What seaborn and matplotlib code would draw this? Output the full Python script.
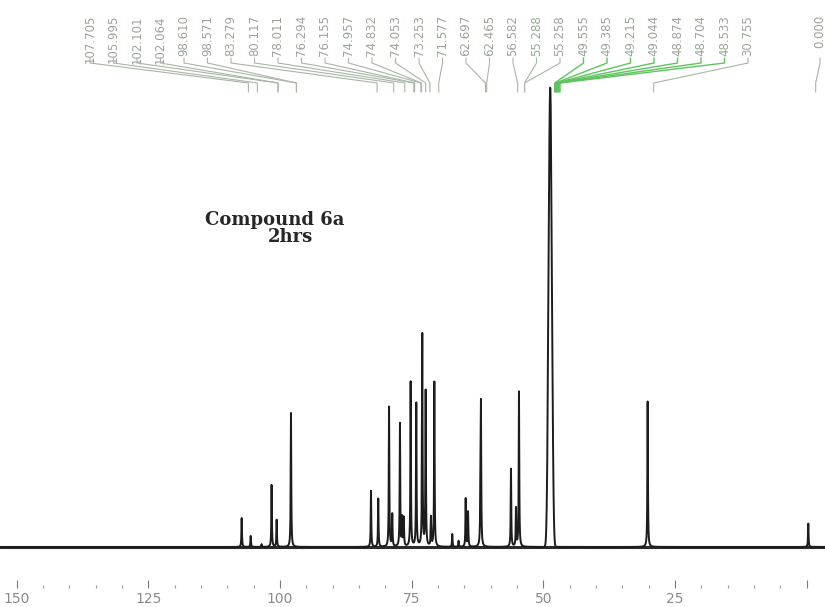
import numpy as np
import matplotlib
matplotlib.use('Agg')
import matplotlib.pyplot as plt
from matplotlib.ticker import MultipleLocator
import seaborn as sns

sns.set_style('white')
plt.rcParams['font.family'] = ['DejaVu Sans']

# peaks (ppm, relative height)
shifts = [107.28, 105.57, 103.5, 101.6, 100.64, 97.92, 82.73, 81.35, 79.3, 78.69,
          77.23, 76.8, 76.5, 75.2, 74.13, 72.99, 72.35, 71.34, 70.7, 67.3,
          66.1, 64.75, 64.3, 61.95, 61.85, 56.15, 55.2, 54.63, 30.2, -0.3]
heights = [6.3, 2.4, 0.6, 13.5, 5.9, 29.2, 12.2, 10.5, 30.5, 7.0,
           26.8, 6.1, 6.1, 35.9, 31.2, 46.2, 33.8, 6.3, 35.9, 2.8,
           1.3, 10.5, 7.6, 12.0, 29.0, 17.0, 8.3, 33.8, 31.7, 5.1]

# solvent septet (CD3OD)
solvent_shifts = [49.21, 49.04, 48.87, 48.70, 48.53, 48.36, 48.19]
solvent_heights = [6.4, 19.1, 38.2, 44.5, 38.2, 19.1, 6.4]

# peak-pick labels printed across the top
peak_labels = ['107.705', '105.995', '102.101', '102.064', '98.610', '98.571',
               '83.279', '80.117', '78.011', '76.294', '76.155', '74.957',
               '74.832', '74.053', '73.253', '71.577', '62.697', '62.465',
               '56.582', '55.288', '55.258', '49.555', '49.385', '49.215',
               '49.044', '48.874', '48.704', '48.533', '30.755', '0.000']

tick_values = [150, 125, 100, 75, 50, 25, 0]
tick_labels = ['150', '125', '100', '75', '50', '25', '']

# axis geometry (ppm at left / right edge of the figure)
X_LEFT, X_RIGHT = 153.17, -3.47
W, H = 825, 607
AX_BOTTOM = 588
def px2ppm(px):
    return X_LEFT - px * (X_LEFT - X_RIGHT) / W

UNIT = 4.59          # px per intensity unit
BASE = 547           # baseline row in px
def py2y(py):
    return (BASE - py) / UNIT

ppm = np.linspace(-3.5, 153.2, 40000)
def lorentz(centres, amps, width):
    out = np.zeros_like(ppm)
    for c, a in zip(centres, amps):
        out += a / (1 + ((ppm - c) / width) ** 2)
    return out

def gauss(centres, amps, sigma):
    out = np.zeros_like(ppm)
    for c, a in zip(centres, amps):
        out += a * np.exp(-0.5 * ((ppm - c) / sigma) ** 2)
    return out

trace = lorentz(shifts, heights, 0.06) + gauss(solvent_shifts, solvent_heights, 0.18)

fig = plt.figure(figsize=(8.25, 6.07), dpi=100)
ax = fig.add_axes([0, (H - AX_BOTTOM) / H, 1, AX_BOTTOM / H])

ax.axhline(0, color='#2b2b2b', linewidth=2.2, zorder=1)
sns.lineplot(x=ppm, y=trace, ax=ax, color='#1c1c1c', linewidth=1.4,
             estimator=None, sort=False, zorder=2)

ax.set_xlim(X_LEFT, X_RIGHT)
ax.set_ylim(py2y(AX_BOTTOM), py2y(0))
for s in ax.spines.values():
    s.set_visible(False)
ax.set_yticks([])
ax.set_xticks(tick_values)
ax.set_xticklabels(tick_labels)
ax.xaxis.set_minor_locator(MultipleLocator(5))
ax.tick_params(axis='x', which='major', bottom=True, direction='in', length=6,
               width=0.8, color='#7a7a7a', labelsize=10, labelcolor='#8a8a8a', pad=3)
ax.tick_params(axis='x', which='minor', bottom=True, direction='in', length=2.5,
               width=0.8, color='#9a9a9a')
ax.set_xlabel('')
ax.set_ylabel('')

# labels and connector lines
label_px = list(np.linspace(90, 748, len(peak_labels) - 1)) + [820]
for lab, lx in zip(peak_labels, label_px):
    v = float(lab)
    x0 = px2ppm(lx)
    x1 = v - 1.7
    green = 48 < v < 50
    lc = '#5fc45f' if green else '#a9b5a6'
    ax.text(x0, py2y(15), lab, rotation=90, ha='center', va='top',
            fontsize=8.5, color='#98a698')
    ax.plot([x0, x0, x1, x1], [py2y(58), py2y(63), py2y(83), py2y(92)],
            color=lc, linewidth=1.0 if green else 0.8, zorder=3)

fig.text(275 / W, 1 - 220 / H, 'Compound 6a', ha='center', va='center',
         fontsize=13, fontweight='bold', family='DejaVu Serif')
fig.text(290 / W, 1 - 237 / H, '2hrs', ha='center', va='center',
         fontsize=13, fontweight='bold', family='DejaVu Serif')

plt.savefig('out.png', dpi=100)
plt.close()
